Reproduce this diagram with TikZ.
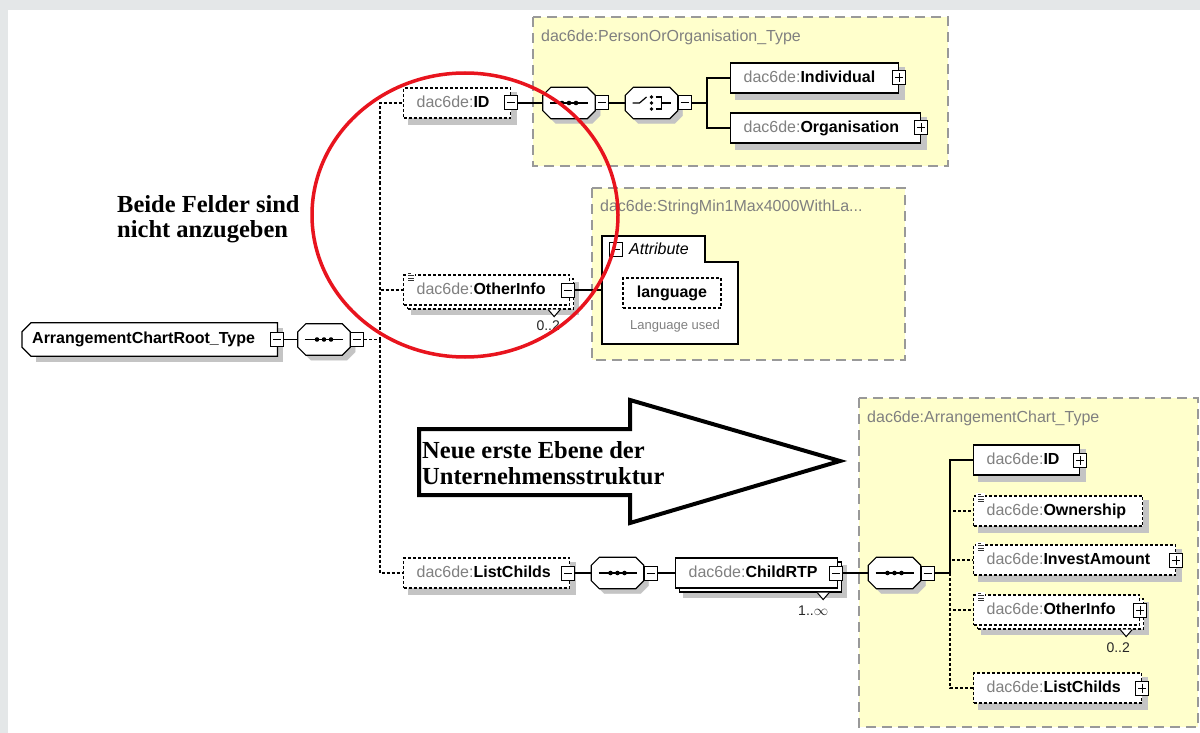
\documentclass[tikz,border=0pt]{standalone}
\usepackage{fontspec}
\setmainfont{Liberation Serif}
\newfontfamily\xsfont{Liberation Sans}
\usetikzlibrary{shadows}
\pgfdeclarelayer{back}
\pgfdeclarelayer{body}
\pgfsetlayers{back,body,main}
\definecolor{bggrey}{RGB}{228,231,232}
\definecolor{typeyellow}{RGB}{255,255,204}
\definecolor{prefixgrey}{RGB}{128,128,128}
\definecolor{shgrey}{RGB}{196,196,196}
\definecolor{markred}{RGB}{232,20,30}
\newcommand{\pre}{\textcolor{prefixgrey}{dac6de:}}
\newcommand{\octo}[1]{([xshift=8pt]#1.north west) -- ([xshift=-8pt]#1.north east) -- ([yshift=-8pt]#1.north east) -- ([yshift=8pt]#1.south east) -- ([xshift=-8pt]#1.south east) -- ([xshift=8pt]#1.south west) -- ([yshift=8pt]#1.south west) -- ([yshift=-8pt]#1.north west) -- cycle}
\newcommand{\octosh}[1]{([shift={(13pt,-5pt)}]#1.north west) -- ([shift={(-3pt,-5pt)}]#1.north east) -- ([shift={(5pt,-13pt)}]#1.north east) -- ([shift={(5pt,3pt)}]#1.south east) -- ([shift={(-3pt,-5pt)}]#1.south east) -- ([shift={(13pt,-5pt)}]#1.south west) -- ([shift={(5pt,3pt)}]#1.south west) -- ([shift={(5pt,-13pt)}]#1.north west) -- cycle}
\newcommand{\rootshape}[1]{([xshift=9pt]#1.north west) -- (#1.north east) -- (#1.south east) -- ([xshift=9pt]#1.south west) -- ([yshift=9pt]#1.south west) -- ([yshift=-9pt]#1.north west) -- cycle}
\newcommand{\seqsym}[1]{%
  \draw[line width=1.2pt] ([xshift=-19pt]#1.center) -- ([xshift=19pt]#1.center);
  \foreach \d in {-7,0,7} \fill ([xshift=\d pt]#1.center) circle (2.3pt);
}
\newcommand{\chosym}[1]{%
  \begin{scope}[shift={(#1.center)},line width=1.2pt]
  \draw (-19,0) -- (-12,0) -- (-5,6);
  \foreach \v in {-6,0,6} \fill (0,\v) circle (1.8pt);
  \draw (4,6) -- (10,6) -- (10,-6) -- (4,-6) (10,0) -- (19,0);
  \end{scope}
}
\newcommand{\mixicon}[1]{%
  \fill[white] ([xshift=3pt,yshift=2pt]#1.north west) rectangle ([xshift=12pt,yshift=-8pt]#1.north west);
  \foreach \k/\l in {0/3,1/6,2/6,3/6}
    \draw[line width=0.9pt,black!80] ([xshift=5pt,yshift={(1-2.5*\k)*1pt}]#1.north west) -- ++(\l,0);
}

\begin{document}
\begin{tikzpicture}[x=1pt,y=1pt]
\tikzstyle{every node}+=[inner sep=0pt]
\tikzstyle{stack}=[general shadow={shadow xshift=4pt,shadow yshift=-4pt,draw=black,fill=white}]
\tikzstyle{xs}=[font=\xsfont\fontsize{16}{19}\selectfont]
\tikzstyle{elem}=[xs,draw,fill=white,line width=1.2pt,anchor=west,align=left,inner xsep=13pt,minimum height=30pt,text height=12pt,text depth=3.5pt]
\tikzstyle{optline}=[dash pattern=on 3pt off 2pt]
\tikzstyle{opt}=[elem,optline]
\tikzstyle{conn}=[line width=1.2pt]
\tikzstyle{btn}=[draw,fill=white,line width=1pt,minimum width=13pt,minimum height=14pt]
\tikzstyle{minus}=[btn,path picture={\draw[line width=1pt] ([xshift=2.5pt]path picture bounding box.west) -- ([xshift=-2.5pt]path picture bounding box.east);}]
\tikzstyle{plus}=[btn,path picture={\draw[line width=1pt] ([xshift=2.5pt]path picture bounding box.west) -- ([xshift=-2.5pt]path picture bounding box.east) ([yshift=-2.5pt]path picture bounding box.north) -- ([yshift=2.5pt]path picture bounding box.south);}]
\tikzstyle{comp}=[minimum width=52pt,minimum height=31pt]
\tikzstyle{rootbox}=[xs,anchor=west,align=left,inner xsep=10pt,text width=235pt,minimum height=33pt,font=\xsfont\bfseries\fontsize{16}{19}\selectfont]
\tikzstyle{outline}=[line width=1.2pt,fill=white]
\tikzstyle{dropsh}=[draw=shgrey,line width=0.1pt,fill=shgrey]
\tikzstyle{typebox}=[draw=black!40,fill=typeyellow,line width=1.3pt,dash pattern=on 10pt off 6pt]
\tikzstyle{typetitle}=[xs,anchor=west,text=prefixgrey]
\tikzstyle{mult}=[font=\xsfont\fontsize{14}{16}\selectfont,text=black!85]
\tikzstyle{multi}=[line width=1pt,fill=white]
\tikzstyle{note}=[anchor=west,align=left,font=\bfseries\fontsize{24.5}{25.5}\selectfont]
\begin{pgfonlayer}{back}
\fill[bggrey] (0,0) rectangle (1200,-733);
\fill[white] (8,-10) rectangle (1200,-733);
\draw[typebox] (533,-17) rectangle (948,-166);
\draw[typebox] (592,-188) rectangle (905,-360);
\draw[typebox] (859,-398) rectangle (1198,-727);
\end{pgfonlayer}
\useasboundingbox (0,0) rectangle (1200,-733);
\node[typetitle] (t1) at (541,-37) {dac6de:PersonOrOrganisation\_Type};
\node[typetitle] (t2) at (600,-207) {dac6de:StringMin1Max4000WithLa...};
\node[typetitle] (t3) at (867,-418) {dac6de:ArrangementChart\_Type};
\node[rootbox] (root) at (22,-339.5) {ArrangementChartRoot\_Type};
\node[minus] (rootb) at (root.east) {};
\node[comp] (sq0) at (324,-339.5) {};
\node[minus,anchor=west] (sq0b) at (sq0.east) {};
\coordinate (br0) at (380,-339.5);
\node[opt,text width=81pt] (id1) at (403,-103) {\pre\textbf{ID}};
\node[minus] (id1b) at (id1.east) {};
\node[comp] (sq1) at (569,-103) {};
\node[minus,anchor=west] (sq1b) at (sq1.east) {};
\node[comp] (ch1) at (651.5,-103) {};
\node[minus,anchor=west] (ch1b) at (ch1.east) {};
\coordinate (br1) at (707,-103);
\node[elem,text width=142pt] (ind) at (730,-78) {\pre\textbf{Individual}};
\node[plus] (indb) at (ind.east) {};
\node[elem,text width=164pt] (org) at (730,-128) {\pre\textbf{Organisation}};
\node[plus] (orgb) at (org.east) {};
\node[opt,stack,text width=140pt] (oi1) at (403,-290) {\pre\textbf{OtherInfo}};
\node[minus] (oi1b) at ([xshift=-2pt]oi1.east) {};
\mixicon{oi1}
\draw[multi] ([xshift=-22pt,yshift=-4pt]oi1.south east) -- ++(6,-7) -- ++(6,7);
\node[mult] (oi1m) at ([xshift=-22pt,yshift=-20pt]oi1.south east) {0..2};
\draw[line width=1.2pt,fill=white] (602,-236) -- (705,-236) -- (705,-262) -- (738,-262) -- (738,-344) -- (602,-344) -- cycle;
\coordinate (attr) at (602,-290);
\node[minus] (attrb) at (616,-249) {};
\node[xs,anchor=west,font=\xsfont\itshape\fontsize{16}{19}\selectfont] (attrt) at (629,-249) {Attribute};
\node[opt,anchor=center,align=center,minimum width=98pt] (lang) at (672,-293) {\textbf{language}};
\node[font=\xsfont\fontsize{13}{15}\selectfont,text=prefixgrey] (langd) at (675,-326) {Language used};
\node[opt,text width=140pt] (lc1) at (403,-573) {\pre\textbf{ListChilds}};
\node[minus] (lc1b) at ([xshift=-2pt]lc1.east) {};
\node[comp] (sq2) at (617.5,-573) {};
\node[minus,anchor=west] (sq2b) at (sq2.east) {};
\node[elem,stack,text width=136pt] (crtp) at (675,-573) {\pre\textbf{ChildRTP}};
\node[minus] (crtpb) at ([xshift=-2pt]crtp.east) {};
\draw[multi] ([xshift=-21pt,yshift=-4pt]crtp.south east) -- ++(6,-7) -- ++(6,7);
\node[mult] (crtpm) at ([xshift=-25pt,yshift=-22pt]crtp.south east) {1..$\infty$};
\node[comp] (sq3) at (894.5,-573) {};
\node[minus,anchor=west] (sq3b) at (sq3.east) {};
\coordinate (br3) at (950,-573);
\node[elem,text width=80pt] (id2) at (973,-460) {\pre\textbf{ID}};
\node[plus] (id2b) at (id2.east) {};
\node[opt,text width=143pt] (own) at (973,-511) {\pre\textbf{Ownership}};
\mixicon{own}
\node[opt,text width=176pt] (inv) at (973,-560) {\pre\textbf{InvestAmount}};
\node[plus] (invb) at (inv.east) {};
\mixicon{inv}
\node[opt,stack,text width=140pt] (oi2) at (973,-610) {\pre\textbf{OtherInfo}};
\node[plus] (oi2b) at (oi2.east) {};
\mixicon{oi2}
\draw[multi] ([xshift=-20pt,yshift=-4pt]oi2.south east) -- ++(6,-7) -- ++(6,7);
\node[mult] (oi2m) at ([xshift=-22pt,yshift=-22pt]oi2.south east) {0..2};
\node[opt,text width=142pt] (lc2) at (973,-688) {\pre\textbf{ListChilds}};
\node[plus] (lc2b) at (lc2.east) {};
\begin{pgfonlayer}{body}
\filldraw[dropsh] ([shift={(14pt,-5pt)}]root.north west) -- ([shift={(5pt,-5pt)}]root.north east) -- ([shift={(5pt,-5pt)}]root.south east) -- ([shift={(14pt,-5pt)}]root.south west) -- cycle;
\foreach \n in {sq0,sq1,ch1,sq2,sq3} {\filldraw[dropsh] \octosh{\n};}
\foreach \n in {id1,ind,org,lc1,id2,own,inv,lc2,lang} {\filldraw[dropsh] ([shift={(5pt,-5pt)}]\n.south west) rectangle ([shift={(5pt,-5pt)}]\n.north east);}
\foreach \n in {oi1,crtp,oi2} {\filldraw[dropsh] ([shift={(8pt,-8pt)}]\n.south west) rectangle ([shift={(8pt,-8pt)}]\n.north east);}
\draw[outline] \rootshape{root};
\foreach \n in {sq0,sq1,ch1,sq2,sq3} {\draw[outline] \octo{\n};}
\end{pgfonlayer}
\foreach \n in {sq0,sq1,sq2,sq3} {\seqsym{\n}}
\chosym{ch1}
\draw[conn] (rootb) -- (sq0);
\draw[conn,optline] (sq0b) -- (br0);
\draw[conn,optline] (br0) |- (id1);
\draw[conn,optline] (br0) |- (oi1);
\draw[conn,optline] (br0) |- (lc1);
\draw[conn] (id1b) -- (sq1);
\draw[conn] (sq1b) -- (ch1);
\draw[conn] (ch1b) -- (br1) |- (ind);
\draw[conn] (br1) |- (org);
\draw[conn] (oi1b) -- (attr);
\draw[conn] (lc1b) -- (sq2);
\draw[conn] (sq2b) -- (crtp);
\draw[conn] (crtpb) -- (sq3);
\draw[conn] (sq3b) -- (br3) |- (id2);
\draw[conn,optline] (br3) |- (own);
\draw[conn,optline] (br3) |- (inv);
\draw[conn,optline] (br3) |- (oi2);
\draw[conn,optline] (br3) |- (lc2);
\draw[line width=4pt,fill=white,line join=miter] (419,-429) -- (630,-429) -- (630,-400) -- (840,-461) -- (630,-523) -- (630,-495) -- (419,-495) -- cycle;
\node[note] (newlevel) at (422,-463) {Neue erste Ebene der\\Unternehmensstruktur};
\node[note] (hint) at (117,-219) {Beide Felder sind\\nicht anzugeben};
\draw[markred,line width=3.5pt] (465,-215) ellipse [x radius=153,y radius=142];
\end{tikzpicture}
\end{document}
